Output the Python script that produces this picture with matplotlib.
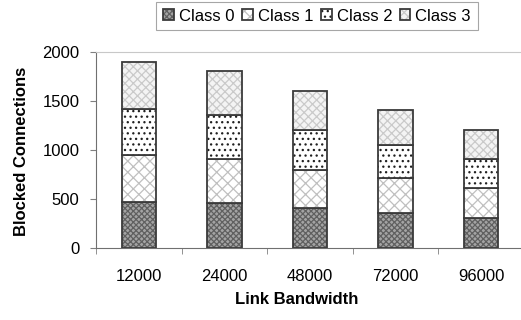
import matplotlib
matplotlib.use('Agg')
from matplotlib import pyplot as plt
import numpy as np

# data
bandwidths = ['12000', '24000', '48000', '72000', '96000']
class_0 = [470, 455, 410, 355, 310]
class_1 = [480, 450, 390, 355, 305]
class_2 = [470, 450, 400, 345, 295]
class_3 = [475, 450, 400, 350, 295]
class_names = ['Class 0', 'Class 1', 'Class 2', 'Class 3']

plt.rcParams['font.family'] = ['Liberation Sans', 'DejaVu Sans']
plt.rcParams['hatch.linewidth'] = 0.9

# face colour, hatch, hatch colour per class
styles = [('#a4a4a4', 'xxxxxx', '#606060'),
          ('white', 'xxx', '#c0c0c0'),
          ('white', '...', '#202020'),
          ('#f4f4f4', 'xxxx', '#cacaca')]

fig = plt.figure(figsize=(5.21, 3.2), dpi=100)
ax = fig.add_axes([96 / 521, 72 / 320, 428 / 521, 196 / 320])

x = np.arange(len(bandwidths))
width = 0.4
bottom = np.zeros(len(bandwidths))
handles = []
for vals, name, (fc, hatch, hc) in zip([class_0, class_1, class_2, class_3], class_names, styles):
    b = ax.bar(x, vals, width, bottom=bottom, color=fc, hatch=hatch,
               edgecolor=hc, linewidth=0)
    # outline drawn separately so the hatch can keep its own colour
    o = ax.bar(x, vals, width, bottom=bottom, fill=False, edgecolor='#3a3a3a', linewidth=1.3)
    handles.append((b[0], o[0]))
    bottom += np.array(vals)

ax.set_xlim(-0.5, 4.5)
ax.set_ylim(0, 2000)
ax.set_yticks([0, 500, 1000, 1500, 2000])
ax.set_xticks(x)
ax.set_xticklabels(bandwidths)
ax.set_xticks(np.arange(-0.5, 5, 1), minor=True)
ax.tick_params(axis='x', which='major', length=0, pad=15, labelsize=12)
ax.tick_params(axis='x', which='minor', length=4, color='#808080', direction='out')
ax.tick_params(axis='y', length=4, color='#808080', pad=8, labelsize=12)

for side in ['left', 'bottom']:
    ax.spines[side].set_color('#707070')
ax.spines['top'].set_color('#c8c8c8')
ax.spines['right'].set_visible(False)

fig.text(22 / 521, 1 - 151 / 320, 'Blocked Connections', rotation=90,
         ha='center', va='center', fontsize=12, fontweight='bold')
fig.text(297 / 521, 1 - 300 / 320, 'Link Bandwidth',
         ha='center', va='center', fontsize=12, fontweight='bold')

leg = fig.legend(handles=handles, labels=class_names, loc='upper center',
                 bbox_to_anchor=(317 / 521, 1 - 2 / 320),
                 ncol=4, fontsize=12, frameon=True, fancybox=False,
                 handlelength=0.65, handleheight=0.65, handletextpad=0.3,
                 columnspacing=0.45, borderpad=0.4, borderaxespad=0)
leg.get_frame().set_edgecolor('#909090')
leg.get_frame().set_linewidth(0.8)

plt.savefig('out.png', dpi=100)
